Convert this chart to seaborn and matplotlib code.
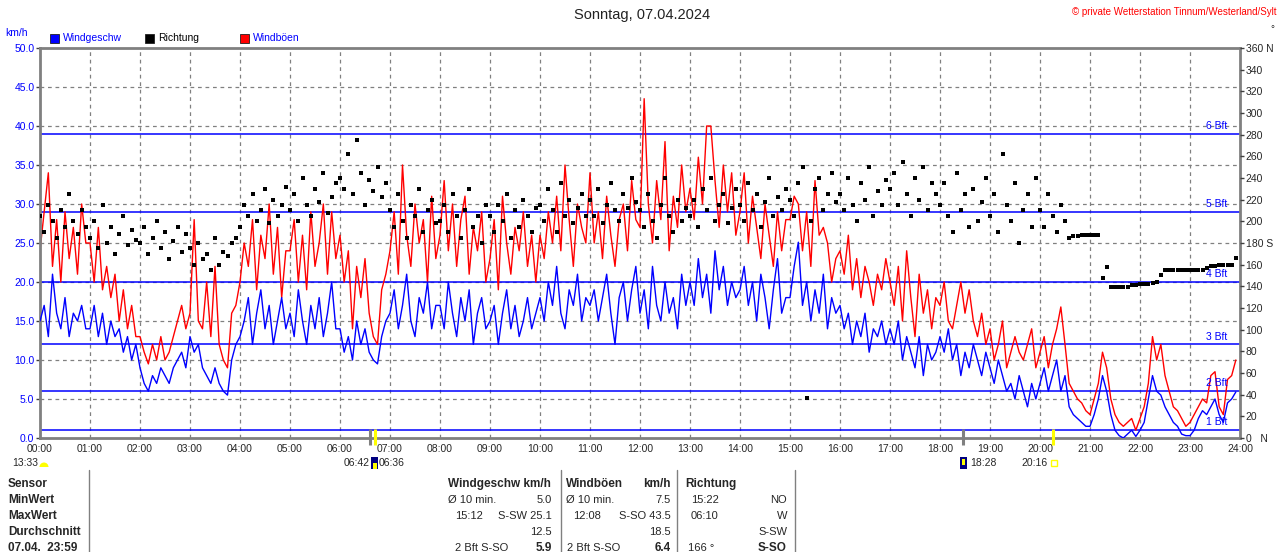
import numpy as np
import pandas as pd
import matplotlib
matplotlib.use("Agg")
import matplotlib.pyplot as plt
from matplotlib.patches import Rectangle, Wedge
import seaborn as sns

# ─────────────────────────────────────────────
# DATA  (5-minute readings, one row = one hour)
# ─────────────────────────────────────────────
speed_kmh = [
    15, 17, 13, 21, 16, 14, 18, 13, 16, 15, 17, 14,      # 00
    14, 17, 13, 16, 12, 15, 13, 14, 11, 13, 10, 12,      # 01
    9, 7, 6, 8, 7, 9, 8, 7, 9, 10, 11, 9,                # 02
    13, 11, 12, 9, 8, 7, 9, 7, 6, 5.5, 10, 12,           # 03
    13, 15, 18, 12, 16, 19, 14, 17, 12, 15, 18, 14,      # 04
    16, 13, 19, 15, 12, 17, 14, 18, 13, 16, 20, 14,      # 05
    14, 11, 13, 10, 15, 12, 14, 11, 10, 9.5, 13, 15,     # 06
    16, 19, 14, 17, 21, 15, 13, 18, 16, 20, 14, 17,      # 07
    17, 14, 20, 16, 13, 18, 15, 19, 12, 16, 18, 14,      # 08
    15, 17, 12, 16, 19, 14, 17, 13, 15, 18, 14, 16,      # 09
    18, 15, 20, 17, 22, 16, 14, 19, 17, 21, 15, 18,      # 10
    17, 19, 15, 18, 21, 16, 12, 18, 20, 15, 19, 22,      # 11
    16, 19, 14, 22, 17, 15, 20, 16, 18, 14, 21, 17,      # 12
    20, 17, 23, 18, 21, 16, 24, 19, 22, 17, 20, 18,      # 13
    19, 22, 17, 20, 15, 21, 18, 14, 19, 23, 16, 18,      # 14
    18, 22, 25.1, 17, 20, 15, 19, 16, 21, 14, 18, 16,    # 15
    17, 14, 16, 12, 15, 13, 16, 11, 14, 13, 15, 12,      # 16
    14, 12, 15, 10, 13, 11, 9, 13, 8, 12, 10, 11,        # 17
    13, 11, 14, 10, 12, 8, 11, 9, 12, 10, 8, 11,         # 18
    9, 7, 10, 8, 6, 7, 5, 8, 6, 4, 7, 5,                 # 19
    7, 9, 6, 8, 10, 6, 8, 4, 3, 2.5, 2, 1.5,             # 20
    1.5, 3, 5, 8, 6, 3, 1, 0.3, 0, 0.5, 1, 0.2,          # 21
    1, 2, 5, 8, 6, 5.5, 4, 3, 2, 1.5, 0.5, 0.3,          # 22
    0.3, 1, 2.5, 3.5, 3, 4, 5, 3, 2, 4.5, 5, 5.9,        # 23
]

gust_kmh = [
    24, 29, 34, 22, 28, 20, 29, 23, 27, 21, 30, 25,
    25, 20, 27, 19, 22, 18, 21, 15, 19, 14, 17, 13,
    13, 11, 9.5, 12, 10, 13, 10, 11, 13, 15, 17, 14,
    16, 28, 15, 14, 20, 13, 22, 12, 10, 9, 16, 17,
    20, 25, 22, 28, 19, 26, 23, 30, 21, 27, 18, 24,
    24, 28, 20, 26, 19, 29, 22, 25, 30, 21, 29, 23,
    26, 20, 24, 14, 22, 18, 23, 16, 13, 12, 19, 21,
    24, 29, 21, 35, 26, 22, 30, 25, 28, 20, 31, 23,
    26, 33, 24, 30, 22, 28, 31, 21, 27, 24, 29, 20,
    23, 28, 19, 31, 25, 21, 27, 24, 29, 22, 26, 20,
    26, 23, 29, 25, 31, 24, 35, 28, 22, 30, 27, 25,
    34, 25, 29, 23, 31, 26, 22, 28, 30, 24, 33, 28,
    27, 43.5, 30, 25, 33, 28, 38, 24, 31, 27, 35, 29,
    32, 28, 36, 30, 40, 40, 33, 27, 35, 29, 34, 26,
    29, 34, 25, 31, 27, 23, 30, 26, 22, 29, 24, 28,
    28, 31, 30, 24, 29, 22, 33, 26, 27, 25, 20, 23,
    24, 21, 26, 19, 23, 18, 22, 20, 17, 21, 19, 23,
    20, 17, 22, 15, 24, 18, 13, 21, 16, 19, 14, 18,
    17, 20, 15, 14, 17, 20, 16, 19, 15, 13, 16, 12,
    14, 10, 12, 15, 9, 11, 13, 11, 10, 12, 14, 9,
    11, 13, 9, 12, 14, 16.8, 12, 7, 6, 5, 4.5, 3.5,
    3, 5, 7, 11, 9, 5, 3, 2, 1.5, 2, 2.5, 1,
    2.5, 4, 7, 13, 10, 12, 8, 6, 4, 3.5, 2.5, 1.5,
    2, 3, 4, 5, 4.5, 8, 8.5, 4, 3, 7.5, 8, 10,
]

direction_deg = [
    205, 190, 215, 200, 185, 210, 195, 225, 200, 188, 210, 195,
    185, 200, 175, 215, 180, 195, 170, 188, 205, 178, 192, 183,
    180, 195, 170, 185, 200, 175, 190, 165, 182, 195, 172, 188,
    175, 160, 180, 165, 170, 155, 185, 160, 172, 168, 180, 185,
    195, 215, 205, 225, 200, 210, 230, 198, 220, 205, 215, 232,
    210, 225, 200, 240, 215, 205, 230, 218, 245, 208, 222, 235,
    240, 230, 262, 225, 275, 245, 215, 238, 228, 250, 222, 235,
    210, 195, 225, 200, 185, 215, 205, 230, 190, 210, 220, 198,
    200, 215, 190, 225, 205, 185, 210, 230, 195, 205, 180, 215,
    205, 190, 215, 200, 225, 185, 210, 195, 220, 205, 190, 212,
    215, 200, 230, 210, 190, 235, 205, 220, 198, 212, 225, 205,
    220, 205, 230, 198, 215, 235, 210, 200, 225, 212, 240, 218,
    210, 195, 225, 200, 185, 215, 240, 205, 190, 220, 200, 212,
    205, 220, 195, 230, 210, 240, 200, 215, 225, 198, 212, 230,
    215, 200, 235, 210, 225, 195, 218, 240, 205, 222, 210, 230,
    220, 205, 235, 250, 37, 200, 230, 240, 210, 225, 245, 218,
    225, 210, 240, 215, 200, 235, 220, 250, 205, 228, 215, 238,
    230, 245, 215, 255, 225, 205, 240, 220, 250, 210, 235, 225,
    215, 235, 205, 190, 245, 210, 225, 195, 230, 200, 218, 240,
    205, 225, 190, 262, 215, 200, 235, 180, 210, 225, 195, 240,
    210, 195, 225, 205, 190, 215, 200, 185, 186, 186, 187, 187,
    187, 187, 187, 148, 158, 139, 139, 139, 139, 139, 141, 141,
    142, 142, 142, 143, 144, 150, 155, 155, 155, 155, 155, 155,
    155, 155, 155, 155, 157, 159, 159, 160, 160, 160, 160, 166,
]

bft_levels = [1, 6, 12, 20, 29, 39]
bft_labels = ["1 Bft", "2 Bft", "3 Bft", "4 Bft", "5 Bft", "6 Bft"]

hour_labels = [f"{h:02d}:00" for h in range(25)]

# sun / moon events below the time axis
event_times = ["06:36", "06:42", "18:28", "20:16"]
event_colors = ["#808080", "#FFFF00", "#808080", "#FFFF00"]

stats_rows = ["Sensor", "MinWert", "MaxWert", "Durchschnitt", "07.04.  23:59"]

# ─────────────────────────────────────────────
# FRAME
# ─────────────────────────────────────────────
minutes = np.arange(0, 24 * 60, 5)
df = pd.DataFrame({
    "hour": minutes / 60.0,
    "speed": speed_kmh,
    "gust": gust_kmh,
    "direction": direction_deg,
})

sns.set_style("white")
plt.rcParams["font.family"] = ["Liberation Sans", "DejaVu Sans"]

W, H = 1280, 552
fig = plt.figure(figsize=(W / 100, H / 100), dpi=100)
ax = fig.add_axes([40 / W, 114 / H, 1200 / W, 390 / H])

BLUE = "#0000FF"
GRAY = "#808080"

# grid + Beaufort lines
for h in range(1, 24):
    ax.axvline(h, color=GRAY, lw=0.9, ls=(0, (3, 3)), zorder=0)
for v in np.arange(5, 50, 5):
    ax.axhline(v, color=GRAY, lw=0.9, ls=(0, (3, 3)), zorder=0)
for lvl, lab in zip(bft_levels, bft_labels):
    ax.axhline(lvl, color=BLUE, lw=1.1, zorder=1)
    ax.text(23.74, lvl + 0.35, lab, color=BLUE, fontsize=7.5,
            ha="right", va="bottom", zorder=5)

sns.lineplot(data=df, x="hour", y="gust", ax=ax, color="#FF0000", lw=1,
             zorder=2)
sns.lineplot(data=df, x="hour", y="speed", ax=ax, color=BLUE, lw=1,
             zorder=3)

ax.set_xlim(0, 24)
ax.set_ylim(0, 50)
ax.set_xlabel("")
ax.set_ylabel("")
ax.set_xticks(range(25))
ax.set_xticklabels(hour_labels, fontsize=7.5)
ax.set_yticks(np.arange(0, 50.1, 5))
ax.set_yticklabels([f"{v:.1f}" for v in np.arange(0, 50.1, 5)],
                   fontsize=7.5, color=BLUE)
ax.tick_params(axis="x", length=0, pad=4)
ax.tick_params(axis="y", length=3, width=1, color="#404040", pad=1)
for side in ["left", "right", "top", "bottom"]:
    ax.spines[side].set_color(GRAY)
    ax.spines[side].set_linewidth(2)

# wind direction on right axis
ax2 = ax.twinx()
sns.scatterplot(data=df, x="hour", y="direction", ax=ax2, color="black",
                marker="s", s=5.5, linewidth=0, zorder=4)
ax2.set_ylim(0, 360)
ax2.set_xlim(0, 24)
ax2.set_ylabel("")
rticks = np.arange(0, 361, 20)
rlabels = []
for t in rticks:
    if t == 0:
        rlabels.append("0   N")
    elif t == 180:
        rlabels.append("180 S")
    elif t == 360:
        rlabels.append("360 N")
    else:
        rlabels.append(str(t))
ax2.set_yticks(rticks)
ax2.set_yticklabels(rlabels, fontsize=7.5)
ax2.tick_params(axis="y", length=3, width=1, color="#404040", pad=1)
for side in ax2.spines:
    ax2.spines[side].set_visible(False)

# event markers on the time axis
trans = ax.get_xaxis_transform()
for t, c in zip(event_times, event_colors):
    hh, mm = t.split(":")
    xh = int(hh) + int(mm) / 60
    ax.plot([xh, xh], [-0.018, 0.022], color=c, lw=2.2, transform=trans,
            clip_on=False, solid_capstyle="butt", zorder=6)

# ─────────────────────────────────────────────
# TEXT AROUND THE PLOT (pixel positions)
# ─────────────────────────────────────────────
def fx(x):
    return x / W

def fy(y):
    return 1 - y / H

fig.text(fx(642), fy(15), "Sonntag, 07.04.2024", fontsize=10.5,
         ha="center", va="center", color="#222222")
fig.text(fx(1277), fy(12), "© private Wetterstation Tinnum/Westerland/Sylt",
         fontsize=7, ha="right", va="center", color="#FF0000")
fig.text(fx(5), fy(33), "km/h", fontsize=7.5, color=BLUE, va="center")
fig.text(fx(1270), fy(29), "°", fontsize=7, va="center")

legend_items = [(50, BLUE, "Windgeschw", BLUE),
                (145, "#000000", "Richtung", "#000000"),
                (240, "#FF0000", "Windböen", BLUE)]
for x0, fc, lab, tc in legend_items:
    fig.add_artist(Rectangle((fx(x0), fy(43)), 9 / W, 9 / H, facecolor=fc,
                             edgecolor="#202020", lw=0.6,
                             transform=fig.transFigure))
    fig.text(fx(x0 + 13), fy(38), lab, fontsize=7.5, color=tc, va="center")

# sun / moon times
fig.text(fx(38), fy(463), "13:33", fontsize=7.5, ha="right", va="center")
fig.add_artist(Wedge((44 / 100, (H - 467) / 100), 0.045, 0, 180,
                     facecolor="#FFFF00", edgecolor="none",
                     transform=fig.dpi_scale_trans))
fig.text(fx(370), fy(463), "06:42", fontsize=7.5, ha="right", va="center")
fig.add_artist(Rectangle((fx(371), fy(469)), 7 / W, 12 / H,
                         facecolor="#000080", edgecolor="none",
                         transform=fig.transFigure))
fig.add_artist(Rectangle((fx(373), fy(469)), 4 / W, 6 / H,
                         facecolor="#FFFF00", edgecolor="none",
                         transform=fig.transFigure))
fig.text(fx(379), fy(463), "06:36", fontsize=7.5, ha="left", va="center")
fig.add_artist(Rectangle((fx(960), fy(469)), 7 / W, 12 / H,
                         facecolor="#000080", edgecolor="none",
                         transform=fig.transFigure))
fig.add_artist(Rectangle((fx(962), fy(465)), 3 / W, 6 / H,
                         facecolor="#FFFF00", edgecolor="none",
                         transform=fig.transFigure))
fig.text(fx(970), fy(463), "18:28", fontsize=7.5, ha="left", va="center")
fig.text(fx(1048), fy(463), "20:16", fontsize=7.5, ha="right", va="center")
fig.add_artist(Rectangle((fx(1051), fy(466)), 6 / W, 6 / H,
                         facecolor="none", edgecolor="#FFFF00", lw=1,
                         transform=fig.transFigure))

# statistics table
row_y = [484, 500, 516, 532, 548]
for y, lab in zip(row_y, stats_rows):
    fig.text(fx(8), fy(y), lab, fontsize=8.5, fontweight="bold", va="center")

for xl in [89, 561, 677, 795]:
    fig.add_artist(plt.Line2D([fx(xl), fx(xl)], [fy(470), 0], color=GRAY,
                              lw=1, transform=fig.transFigure))

def cell(x, y, s, ha="left", bold=False):
    fig.text(fx(x), fy(y), s, fontsize=8.5 if bold else 8, ha=ha,
             va="center", fontweight="bold" if bold else "normal")

# Windgeschw
cell(448, 484, "Windgeschw km/h", bold=True)
cell(448, 500, "Ø 10 min.")
cell(552, 500, "5.0", ha="right")
cell(455, 516, "15:12")
cell(552, 516, "S-SW 25.1", ha="right")
cell(552, 532, "12.5", ha="right")
cell(455, 548, "2 Bft S-SO")
cell(552, 548, "5.9", ha="right", bold=True)
# Windböen
cell(566, 484, "Windböen", bold=True)
cell(671, 484, "km/h", ha="right", bold=True)
cell(566, 500, "Ø 10 min.")
cell(671, 500, "7.5", ha="right")
cell(573, 516, "12:08")
cell(671, 516, "S-SO 43.5", ha="right")
cell(671, 532, "18.5", ha="right")
cell(567, 548, "2 Bft S-SO")
cell(671, 548, "6.4", ha="right", bold=True)
# Richtung
cell(685, 484, "Richtung", bold=True)
cell(691, 500, "15:22")
cell(787, 500, "NO", ha="right")
cell(691, 516, "06:10")
cell(787, 516, "W", ha="right")
cell(787, 532, "S-SW", ha="right")
cell(688, 548, "166 °")
cell(787, 548, "S-SO", ha="right", bold=True)

fig.savefig("out.png", dpi=100)
